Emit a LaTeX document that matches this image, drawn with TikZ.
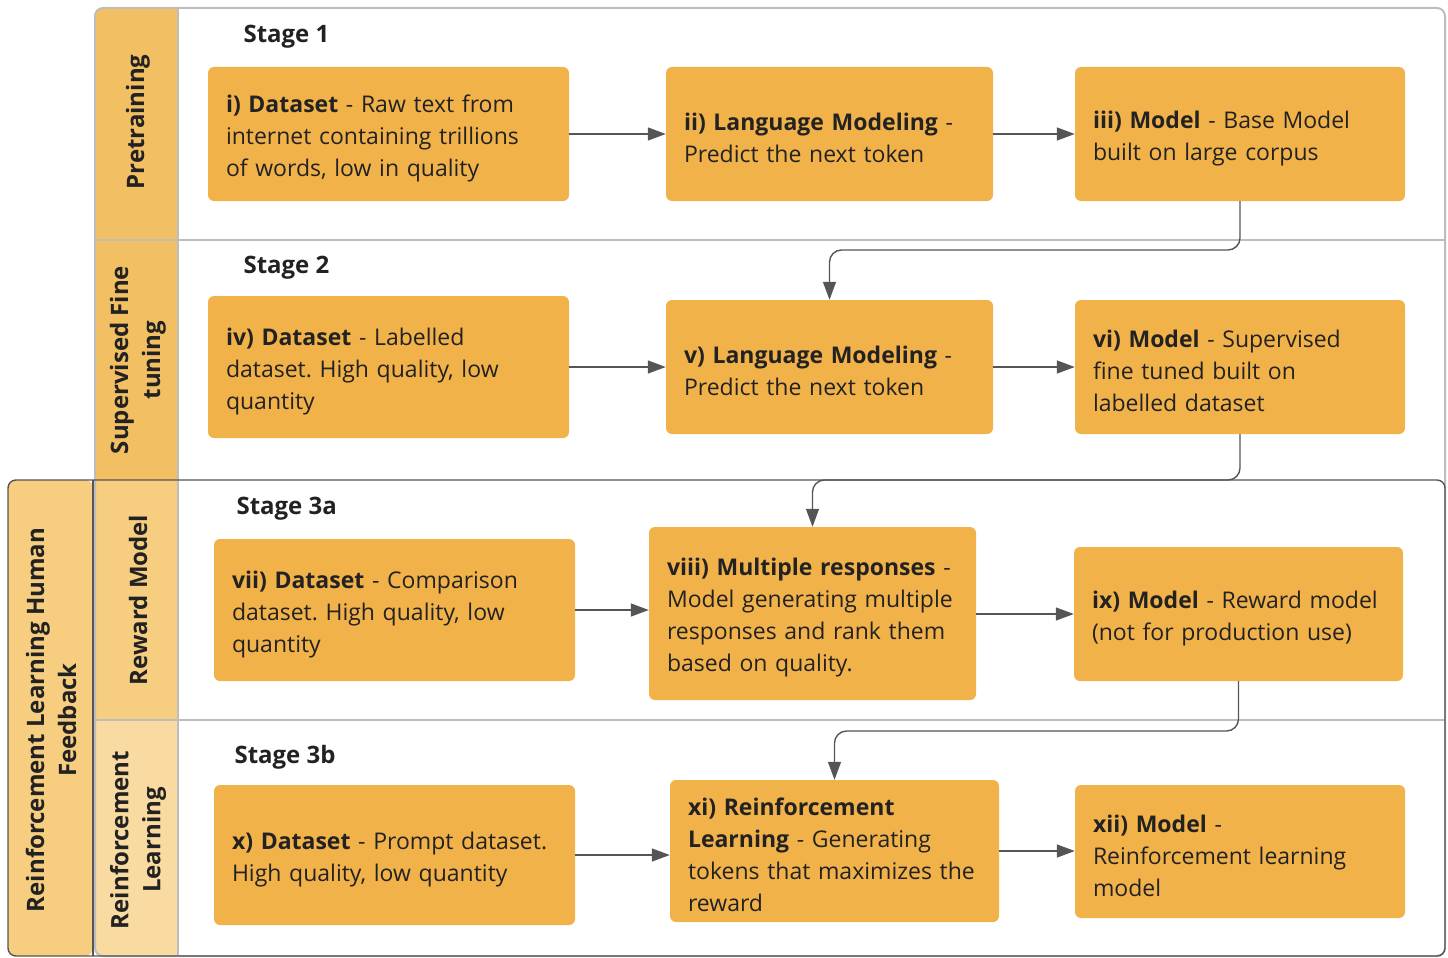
\documentclass[tikz,border=0pt]{standalone}
\usepackage{fontspec}
\setmainfont{Open Sans}
\usepackage{xcolor}
\usetikzlibrary{positioning,calc,arrows.meta}
\frenchspacing
\hyphenpenalty=10000

\definecolor{boxorange}{HTML}{F2B24A}
\definecolor{hdrdark}{HTML}{F3BF63}
\definecolor{hdrmid}{HTML}{F7CD80}
\definecolor{hdrlight}{HTML}{F9DAA0}
\definecolor{framegray}{HTML}{BDBDBD}
\definecolor{linedark}{HTML}{555555}
\definecolor{textdark}{HTML}{222222}

\begin{document}
\begin{tikzpicture}[x=1pt,y=-1pt,
    box/.style={fill=boxorange, rounded corners=6, inner xsep=18, inner ysep=0,
        align=left, text=textdark, font=\fontsize{23}{32}\selectfont, text height=26},
    hdr/.style={rotate=90, align=center, text=textdark, font=\fontsize{24}{32}\selectfont\bfseries},
    stagelbl/.style={anchor=west, text=textdark, font=\fontsize{24}{28}\selectfont\bfseries},
    flow/.style={draw=linedark, line width=1.4, -{Triangle[length=18, width=13]}},
    link/.style={flow, rounded corners=12}]
    \useasboundingbox (0,0) rectangle (1448,958);

    % lane headers
    \begin{scope}
        \clip[rounded corners=8] (95,8) rectangle (1445,956);
        \fill[hdrdark] (95,8) rectangle (178,480);
        \fill[hdrmid] (95,480) rectangle (178,720);
        \fill[hdrlight] (95,720) rectangle (178,956);
    \end{scope}
    \fill[hdrmid, rounded corners=8] (8,480) rectangle (93,956);

    % frames
    \draw[framegray, line width=2, rounded corners=8] (95,8) rectangle (1445,956);
    \draw[framegray, line width=2] (178,8) -- (178,956);
    \draw[framegray, line width=2] (95,240) -- (1445,240);
    \draw[framegray, line width=2] (95,720) -- (1445,720);
    \draw[linedark, line width=1.4, rounded corners=8] (8,480) rectangle (1445,956);
    \draw[linedark, line width=1.4] (93,480) -- (93,956);

    \node[hdr] (pre) at (138,122) {Pretraining};
    \node[hdr] (sft) at (138,360) {Supervised Fine\\tuning};
    \node[hdr] (rwd) at (138,600) {Reward Model};
    \node[hdr] (rl) at (138,840) {Reinforcement\\Learning};
    \node[hdr] (rlhf) at (51,720) {Reinforcement Learning Human\\Feedback};

    \node[stagelbl] (st1) at (240,37) {Stage 1};
    \node[stagelbl] (st2) at (240,268) {Stage 2};
    \node[stagelbl] (st3a) at (233,509) {Stage 3a};
    \node[stagelbl] (st3b) at (231,757) {Stage 3b};

    % stage 1
    \node[box, text width=325, minimum height=134] (ds1) at (388.5,134)
        {\textbf{i) Dataset} - Raw text from\\internet containing trillions\\of words, low in quality};
    \node[box, text width=291, minimum height=134] (lm1) at (829.5,134)
        {\textbf{ii) Language Modeling} -\\Predict the next token};
    \node[box, text width=294, minimum height=134] (md1) at (1240,134)
        {\textbf{iii) Model} - Base Model\\built on large corpus};

    % stage 2
    \node[box, text width=325, minimum height=142] (ds2) at (388.5,367)
        {\textbf{iv) Dataset} - Labelled\\dataset. High quality, low\\quantity};
    \node[box, text width=291, minimum height=134] (lm2) at (829.5,367)
        {\textbf{v) Language Modeling} -\\Predict the next token};
    \node[box, text width=294, minimum height=134] (md2) at (1240,367)
        {\textbf{vi) Model} - Supervised\\fine tuned built on\\labelled dataset};

    % stage 3a
    \node[box, text width=325, minimum height=142] (ds3) at (394.5,610)
        {\textbf{vii) Dataset} - Comparison\\dataset. High quality, low\\quantity};
    \node[box, text width=291, minimum height=173] (mr3) at (812.5,613.5)
        {\textbf{viii) Multiple responses} -\\Model generating multiple\\responses and rank them\\based on quality.};
    \node[box, text width=293, minimum height=134] (md3) at (1238.5,614)
        {\textbf{ix) Model} - Reward model\\(not for production use)};

    % stage 3b
    \node[box, text width=325, minimum height=140] (ds4) at (394.5,855)
        {\textbf{x) Dataset} - Prompt dataset.\\High quality, low quantity};
    \node[box, text width=293, minimum height=142] (rl4) at (834.5,851)
        {\textbf{xi) Reinforcement}\\\textbf{Learning} - Generating\\tokens that maximizes the\\reward};
    \node[box, text width=294, minimum height=133] (md4) at (1240,851.5)
        {\textbf{xii) Model} -\\Reinforcement learning\\model};

    \draw[flow] (ds1) -- (lm1);
    \draw[flow] (lm1) -- (md1);
    \draw[flow] (ds2) -- (lm2);
    \draw[flow] (lm2) -- (md2);
    \draw[flow] (ds3.east) -- (ds3.east -| mr3.west);
    \draw[flow] (mr3.east |- md3.west) -- (md3.west);
    \draw[flow] (ds4.east) -- (ds4.east -| rl4.west);
    \draw[flow] (rl4.east) -- (rl4.east -| md4.west);

    \coordinate (bend1) at (0,250);
    \coordinate (bend2) at (0,480);
    \coordinate (bend3) at (0,731);
    \draw[link] (md1.south) -- (md1.south |- bend1) -- (lm2.north |- bend1) -- (lm2.north);
    \draw[link] (md2.south) -- (md2.south |- bend2) -- (mr3.north |- bend2) -- (mr3.north);
    \draw[link] (md3.south) -- (md3.south |- bend3) -- (rl4.north |- bend3) -- (rl4.north);
\end{tikzpicture}
\end{document}
